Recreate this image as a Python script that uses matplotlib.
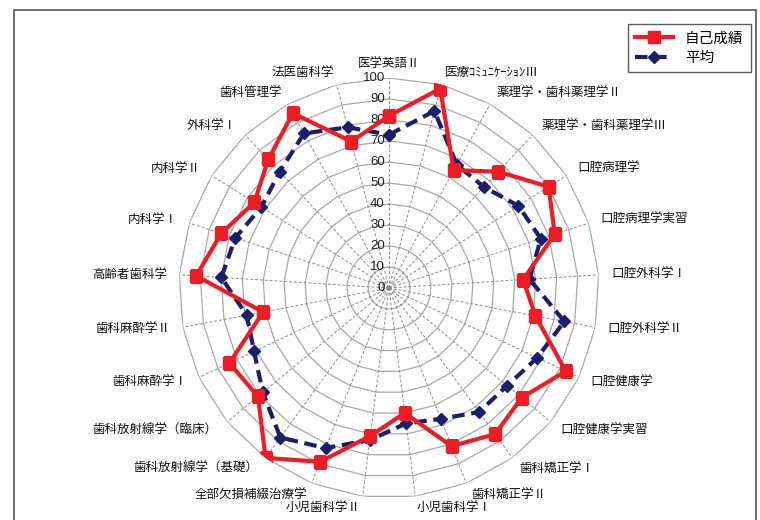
import numpy as np
import matplotlib
matplotlib.use("Agg")
import matplotlib.pyplot as plt
from matplotlib.patches import Rectangle

plt.rcParams['font.family'] = ['Noto Sans CJK JP', 'DejaVu Sans']

categories = ["医学英語Ⅱ", "医療ｺﾐｭﾆｹｰｼｮﾝⅢ", "薬理学・歯科薬理学Ⅱ", "薬理学・歯科薬理学Ⅲ",
              "口腔病理学", "口腔病理学実習", "口腔外科学Ⅰ", "口腔外科学Ⅱ", "口腔健康学",
              "口腔健康学実習", "歯科矯正学Ⅰ", "歯科矯正学Ⅱ", "小児歯科学Ⅰ", "小児歯科学Ⅱ",
              "全部欠損補綴治療学", "歯科放射線学（基礎）", "歯科放射線学（臨床）", "歯科麻酔学Ⅰ",
              "歯科麻酔学Ⅱ", "高齢者歯科学", "内科学Ⅰ", "内科学Ⅱ", "外科学Ⅰ", "歯科管理学", "法医歯科学"]
own_scores = [82, 98, 64, 76, 90, 83, 64, 71, 93, 82, 86, 81, 60, 71, 89, 100, 81, 84, 61, 92, 84, 76, 84, 95, 72]
average = [73, 87, 67, 66, 73, 76, 67, 85, 78, 73, 73, 67, 65, 73, 82, 88, 78, 71, 69, 80, 77, 72, 76, 84, 79]
r_ticks = [0, 10, 20, 30, 40, 50, 60, 70, 80, 90, 100]
series_names = ["自己成績", "平均"]

W, H = 760, 520
fig = plt.figure(figsize=(W / 100, H / 100), dpi=100)
cx, cy, R = 389, 288, 210
ax = fig.add_axes([(cx - R) / W, (H - cy - R) / H, 2 * R / W, 2 * R / H], projection='polar')
ax.set_theta_zero_location('N')
ax.set_theta_direction(-1)
ax.set_ylim(0, 100)

n = len(categories)
theta = np.arange(n) * 2 * np.pi / n
theta_closed = np.append(theta, theta[0])

# polygon grid
ax.grid(False)
ax.spines['polar'].set_visible(False)
ax.set_xticks([])
ax.set_yticks([])
for v in r_ticks[1:]:
    ax.plot(theta_closed, [v] * (n + 1), color='#a8a8a8', lw=0.9, zorder=1)
for t in theta:
    ax.plot([t, t], [0, 100], color='#8a8a8a', lw=0.7, ls=(0, (3, 2)), zorder=1)

# radial tick labels
for v in r_ticks:
    ax.annotate(str(v), xy=(0, v), xytext=(-3, 0), textcoords='offset points',
                ha='right', va='center', fontsize=9.5, color='#222222',
                family=['Liberation Sans', 'DejaVu Sans'], zorder=3)

# category labels
for t, lab in zip(theta, categories):
    s = np.sin(t)
    if abs(s) < 1e-6:
        ha, va, rr = 'center', 'bottom', 104
    elif s > 0:
        ha, va, rr = 'left', 'center', 106
    else:
        ha, va, rr = 'right', 'center', 106
    ax.text(t, rr, lab, ha=ha, va=va, fontsize=9, color='#111111', clip_on=False)

own_c = np.append(own_scores, own_scores[0])
avg_c = np.append(average, average[0])
l1, = ax.plot(theta_closed, own_c, color='#ee1c25', lw=3, marker='s', ms=8,
              mec='#ee1c25', mfc='#ee1c25', zorder=5, label=series_names[0])
l2, = ax.plot(theta_closed, avg_c, color='#1a1f6b', lw=3, ls=(0, (3, 1.6)), marker='D', ms=6,
              mec='#1a1f6b', mfc='#1a1f6b', zorder=4, label=series_names[1])

# outer frame
fig.patches.append(Rectangle((14 / W, -0.05), (756 - 14) / W, 1.05 - 10 / H,
                             transform=fig.transFigure, fill=False, ec='#555555', lw=1.2))

leg = fig.legend(handles=[l1, l2], loc='upper right', bbox_to_anchor=(758 / W, 1 - 17 / H),
                 fontsize=10.5, frameon=True, fancybox=False, edgecolor='#333333',
                 handlelength=2.6, borderpad=0.5, labelspacing=0.35)
leg.get_frame().set_linewidth(1.0)

fig.savefig('out.png', dpi=100)
